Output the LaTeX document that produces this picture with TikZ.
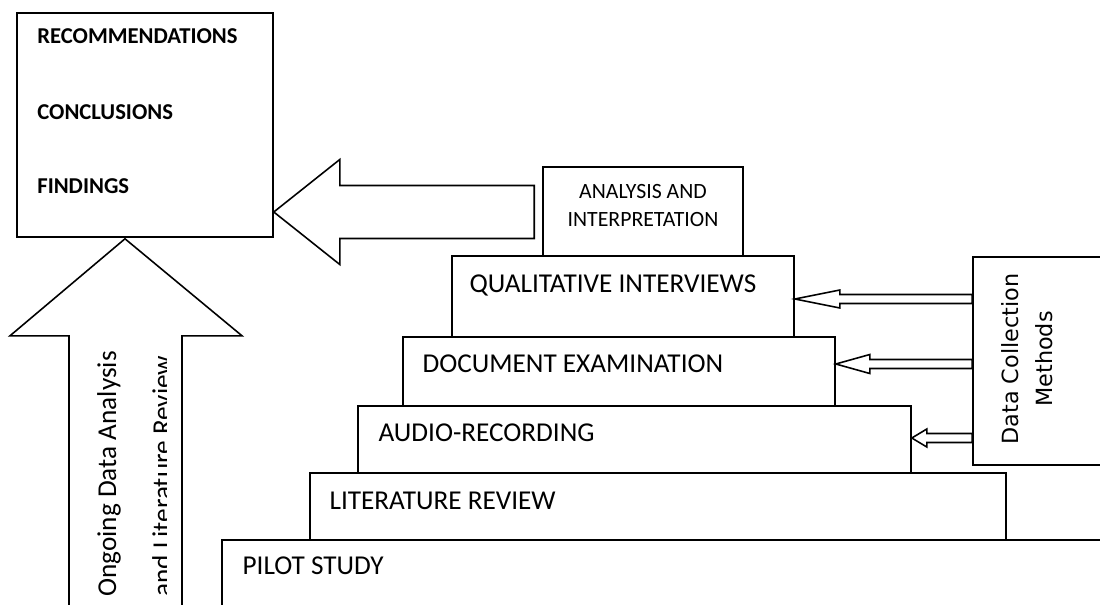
\documentclass[tikz,border=0pt]{standalone}
\usepackage{fontspec}
\setmainfont{Carlito}
\newfontfamily\dejavu{DejaVu Sans}
\usepackage{tikz}
\usetikzlibrary{calc, fit, positioning}

% hollow left-pointing arrow: tip, tail, head length, head half width, shaft half width
\newcommand{\hollowarrow}[5]{%
  \draw[hollowarr] (#1) -- ($(#1)+(#3,-#4)$) -- ($(#1)+(#3,-#5)$)
    -- ($(#2 |- #1)+(0,-#5)$) -- ($(#2 |- #1)+(0,#5)$)
    -- ($(#1)+(#3,#5)$) -- ($(#1)+(#3,#4)$) -- cycle;}

\begin{document}
\begin{tikzpicture}[x=0.02cm, y=-0.02cm,
  stepbox/.style={draw, line width=0.9pt, inner sep=0pt, fill=white},
  steptext/.style={anchor=base west, inner sep=0pt,
              font=\fontsize{15.5}{18}\selectfont},
  restext/.style={anchor=base west, inner sep=0pt,
              font=\fontsize{12.9}{15}\selectfont\bfseries},
  sidetext/.style={anchor=base west, inner sep=0pt, rotate=90,
              font=\fontsize{15.5}{18}\selectfont},
  hollowarr/.style={draw, line width=0.9pt, fill=white, line join=miter}
]
  \clip (0,0) rectangle (1100,605);

  % ── Results box ──
  \node[stepbox, fit={(17,13) (273,237)}] (res) {};
  \node[restext] (recom) at (37,43)  {RECOMMENDATIONS};
  \node[restext] (concl) at (37,119) {CONCLUSIONS};
  \node[restext] (find)  at (37,193) {FINDINGS};

  % ── Staircase ──
  \node[stepbox, fit={(222,540) (1115,620)}] (pilot) {};
  \node[stepbox, fit={(310,473) (1006,540)}] (lit)   {};
  \node[stepbox, fit={(358,406) (911,473)}]  (audio) {};
  \node[stepbox, fit={(403,337) (835,406)}]  (doc)   {};
  \node[stepbox, fit={(452,256) (794,337)}]  (qual)  {};
  \node[stepbox, fit={(543,167) (743,256)}]  (anal)  {};

  \node[steptext] (pilotT) at ($(pilot.north west)+(21,35)$) {PILOT STUDY};
  \node[steptext] (litT)   at ($(lit.north west)+(20,37)$)   {LITERATURE REVIEW};
  \node[steptext] (audioT) at ($(audio.north west)+(21,36)$) {AUDIO-RECORDING};
  \node[steptext] (docT)   at ($(doc.north west)+(20,36)$)   {DOCUMENT EXAMINATION};
  \node[steptext] (qualT)  at ($(qual.north west)+(18,37)$)  {QUALITATIVE INTERVIEWS};
  \node[align=center, inner sep=0pt, font=\fontsize{12.4}{16.4}\selectfont]
    (analT) at ($(anal.center)+(0,-6)$) {ANALYSIS AND\\INTERPRETATION};

  % ── Data collection ──
  \node[stepbox, fit={(973,257) (1115,465)}] (dcm) {};
  \node[rotate=90, align=center, inner sep=0pt,
        font=\dejavu\fontsize{12.7}{19.3}\selectfont]
    (dcmT) at (1027,359) {Data Collection\\Methods};

  % ── Arrows ──
  \coordinate (bigTip)  at (res.east |- 0,212);
  \coordinate (bigTail) at ($(anal.west)+(-8,0)$);
  \hollowarrow{bigTip}{bigTail}{66}{52.5}{26.5}

  \foreach \n/\y/\l/\h in {qual/299/45/9, doc/364/34/9.5, audio/438/15/9} {
    \coordinate (tip\n) at (\n.east |- 0,\y);
    \hollowarrow{tip\n}{dcm.west}{\l}{\h}{4.5}
  }

  \coordinate (upTip) at ($(res.south)+(-20,1)$);
  \draw[hollowarr] (upTip) -- ++(-115,97) -- ++(59,0) -- ++(0,290)
    -- ++(113,0) -- ++(0,-290) -- ++(60,0) -- cycle;

  \begin{scope}
    \clip (0,0) rectangle (166,605);
    \node[sidetext] (ongoingA) at (116,597) {Ongoing Data Analysis};
    \node[sidetext] (ongoingB) at (171,597) {and Literature Review};
  \end{scope}

\end{tikzpicture}
\end{document}
